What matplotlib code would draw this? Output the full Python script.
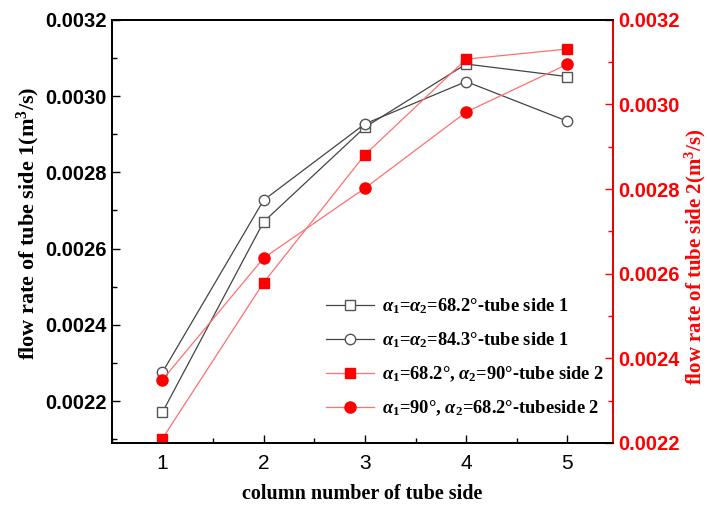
import matplotlib
matplotlib.use("Agg")
import matplotlib.pyplot as plt
from matplotlib.ticker import MultipleLocator, FormatStrFormatter

plt.rcParams['mathtext.fontset'] = 'custom'
plt.rcParams['mathtext.rm'] = 'Liberation Serif:bold'
plt.rcParams['mathtext.it'] = 'Liberation Serif:italic:bold'
plt.rcParams['mathtext.bf'] = 'Liberation Serif:bold'

columns = [1, 2, 3, 4, 5]
side1_682 = [0.002170, 0.002670, 0.002918, 0.003084, 0.003051]
side1_843 = [0.002275, 0.002727, 0.002927, 0.003038, 0.002934]
side2_682_90 = [0.002210, 0.002579, 0.002881, 0.003107, 0.003131]
side2_90_682 = [0.002349, 0.002637, 0.002802, 0.002982, 0.003095]

labels = [r'$\alpha_1$=$\alpha_2$=68.2°-tube side 1',
          r'$\alpha_1$=$\alpha_2$=84.3°-tube side 1',
          r'$\alpha_1$=68.2°, $\alpha_2$=90°-tube side 2',
          r'$\alpha_1$=90°, $\alpha_2$=68.2°-tubeside 2']

fig = plt.figure(figsize=(7.07, 5.08), dpi=100)
ax = fig.add_axes([0.158, 0.128, 0.709, 0.833])
ax2 = ax.twinx()

l1, = ax.plot(columns, side1_682, color='#444444', lw=0.9, marker='s', ms=6.5,
              mfc='white', mec='#555555', mew=1.0)
l2, = ax.plot(columns, side1_843, color='#444444', lw=0.9, marker='o', ms=7.5,
              mfc='white', mec='#555555', mew=1.0)
l3, = ax2.plot(columns, side2_682_90, color='#ff7070', lw=0.9, marker='s', ms=7,
               mfc='red', mec='red')
l4, = ax2.plot(columns, side2_90_682, color='#ff7070', lw=0.9, marker='o', ms=8,
               mfc='red', mec='red')

ax.set_xlim(0.5, 5.45)
ax.set_ylim(0.00209, 0.0032)
ax2.set_ylim(0.0022, 0.0032)

ax.xaxis.set_major_locator(MultipleLocator(1))
ax.xaxis.set_minor_locator(MultipleLocator(0.5))
for a in (ax, ax2):
    a.yaxis.set_major_locator(MultipleLocator(0.0002))
    a.yaxis.set_minor_locator(MultipleLocator(0.0001))
    a.yaxis.set_major_formatter(FormatStrFormatter('%.4f'))

ax.tick_params(axis='both', which='major', direction='in', length=6, width=1)
ax.tick_params(axis='both', which='minor', direction='in', length=3.5, width=1)
ax.tick_params(axis='x', labelsize=15, pad=8)
ax.tick_params(axis='y', labelsize=14.5)
for t in ax.get_yticklabels():
    t.set_fontfamily('Liberation Sans')
    t.set_fontweight('bold')
for t in ax.get_xticklabels():
    t.set_fontfamily('Liberation Sans')

ax2.tick_params(axis='y', which='major', direction='in', length=6, width=1,
                colors='red', labelsize=14.5, pad=4)
ax2.tick_params(axis='y', which='minor', direction='in', length=3.5, width=1,
                colors='red')
for t in ax2.get_yticklabels():
    t.set_fontfamily('Liberation Sans')
    t.set_fontweight('bold')

for s in ax.spines.values():
    s.set_linewidth(1.3)
for s in ax2.spines.values():
    s.set_linewidth(1.3)
ax2.spines['right'].set_color('red')

ax.set_xlabel('column number of tube side', fontsize=14.5, fontweight='bold',
              fontfamily='Liberation Serif', labelpad=8)
ax.set_ylabel(r'flow rate of tube side 1(m$^3$/s)', fontsize=16, fontweight='bold',
              fontfamily='Liberation Serif')
ax.yaxis.set_label_coords(-0.14, 0.52)
ax2.set_ylabel(r'flow rate of tube side 2(m$^3$/s)', fontsize=15, fontweight='bold',
               fontfamily='Liberation Serif', color='red')
ax2.yaxis.set_label_coords(1.14, 0.44)

leg = ax.legend([l1, l2, l3, l4], labels, loc='upper left',
                bbox_to_anchor=(0.395, 0.385), frameon=False, handlelength=2.6,
                labelspacing=0.78, handletextpad=0.4,
                prop={'family': 'Liberation Serif', 'weight': 'bold', 'size': 13.3})

fig.savefig('out.png', dpi=100)
